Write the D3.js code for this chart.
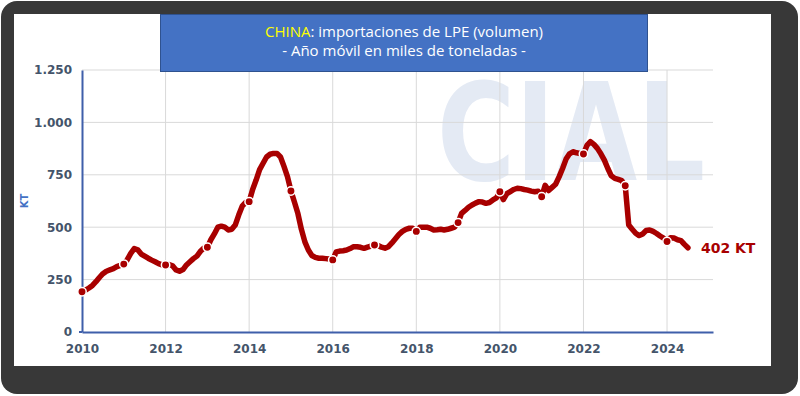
<!DOCTYPE html>
<html>
<head>
<meta charset="utf-8">
<script src="https://cdn.jsdelivr.net/npm/d3@7/dist/d3.min.js"></script>
<style>
  html, body { margin: 0; padding: 0; background: #ffffff; }
  svg { display: block; }
</style>
</head>
<body>
<svg id="chart" width="800" height="396"></svg>
<script>
// ---- data (monthly, rolling 12-month imports, thousand tonnes) ----
const startYear = 2010;
const values2010 = [192, 200, 210, 222, 240, 260, 278, 290, 296, 302, 312, 318];
const values2011 = [324, 345, 375, 398, 392, 372, 362, 352, 343, 335, 326, 320];
const values2012 = [320, 322, 316, 296, 290, 298, 320, 335, 350, 362, 385, 400];
const values2013 = [404, 440, 468, 500, 505, 500, 487, 490, 510, 558, 600, 618];
const values2014 = [622, 680, 725, 775, 805, 835, 848, 852, 852, 835, 790, 741];
const values2015 = [673, 620, 565, 490, 430, 391, 365, 356, 352, 352, 350, 348];
const values2016 = [344, 382, 386, 388, 391, 398, 407, 407, 404, 399, 405, 410];
const values2017 = [415, 412, 405, 400, 407, 425, 445, 465, 480, 490, 495, 495];
const values2018 = [480, 500, 500, 500, 495, 487, 488, 490, 487, 490, 495, 500];
const values2019 = [522, 566, 580, 595, 606, 615, 622, 620, 614, 618, 630, 640];
const values2020 = [669, 632, 660, 670, 680, 686, 684, 680, 677, 672, 669, 672];
const values2021 = [645, 700, 675, 690, 705, 740, 780, 825, 850, 860, 855, 852];
const values2022 = [849, 890, 908, 895, 876, 850, 820, 780, 745, 733, 728, 722];
const values2023 = [698, 510, 490, 471, 460, 468, 484, 487, 480, 470, 458, 448];
const values2024 = [432, 450, 448, 440, 436, 418, 402];

const yTicks = [0, 250, 500, 750, 1000, 1250];
const yTickLabels = ["0", "250", "500", "750", "1.000", "1.250"];
const xTicks = [2010, 2012, 2014, 2016, 2018, 2020, 2022, 2024];
const titleStrong = "CHINA";
const titleRest = ": importaciones de LPE (volumen)";
const subtitle = "- Año móvil en miles de toneladas -";
const yAxisTitle = "KT";
const endLabel = "402 KT";
const watermark = "CIAL";

const allValues = [].concat(values2010, values2011, values2012, values2013, values2014,
  values2015, values2016, values2017, values2018, values2019, values2020, values2021,
  values2022, values2023, values2024);
const series = allValues.map((v, i) => ({ t: startYear + i / 12, v: v, jan: i % 12 === 0 }));

// ---- drawing ----
const svg = d3.select("#chart");

// outer frame
svg.append("rect").attr("x", 0).attr("y", 0).attr("width", 800).attr("height", 396)
  .attr("fill", "#ffffff");
svg.append("rect").attr("x", 1).attr("y", 1).attr("width", 797).attr("height", 393)
  .attr("rx", 16).attr("fill", "#383838");
svg.append("rect").attr("x", 14).attr("y", 14).attr("width", 757).attr("height", 352)
  .attr("fill", "#ffffff");

const x = d3.scaleLinear().domain([2010, 2025.1]).range([82, 713]);
const y = d3.scaleLinear().domain([0, 1250]).range([332, 70]);

// watermark (logo text)
svg.append("text").attr("x", 437).attr("y", 180)
  .attr("font-family", "DejaVu Sans").attr("font-weight", "bold")
  .attr("font-size", 136).attr("fill", "#e4eaf4")
  .attr("textLength", 268).attr("lengthAdjust", "spacingAndGlyphs")
  .text(watermark);

// grid
const grid = svg.append("g");
grid.selectAll("line.h").data(yTicks.filter(d => d > 0)).join("line")
  .attr("x1", x(2010)).attr("x2", x(2025.1))
  .attr("y1", d => y(d)).attr("y2", d => y(d))
  .attr("stroke", "#d9d9d9").attr("stroke-width", 1);
grid.selectAll("line.v").data(xTicks.filter(d => d > 2010)).join("line")
  .attr("x1", d => x(d)).attr("x2", d => x(d))
  .attr("y1", y(1250)).attr("y2", y(0))
  .attr("stroke", "#d9d9d9").attr("stroke-width", 1);

// axes
const axisColor = "#3f5faa";
const labelColor = "#44546a";
const yAxis = svg.append("g").attr("transform", `translate(${x(2010)},0)`)
  .call(d3.axisLeft(y).tickValues(yTicks).tickFormat((d, i) => yTickLabels[i]).tickSize(0).tickPadding(10));
yAxis.select(".domain").attr("stroke", axisColor).attr("stroke-width", 2);
yAxis.selectAll("text").attr("font-family", "DejaVu Sans").attr("font-weight", "bold")
  .attr("font-size", 12).attr("fill", labelColor);

const xAxis = svg.append("g").attr("transform", `translate(0,${y(0)})`)
  .call(d3.axisBottom(x).tickValues(xTicks).tickFormat(d3.format("d")).tickSize(0).tickPadding(12));
xAxis.select(".domain").attr("stroke", axisColor).attr("stroke-width", 2);
xAxis.selectAll("text").attr("font-family", "DejaVu Sans").attr("font-weight", "bold")
  .attr("font-size", 12).attr("fill", labelColor);

// small tick at the origin
svg.append("line").attr("x1", x(2010) - 3).attr("x2", x(2010)).attr("y1", y(0)).attr("y2", y(0))
  .attr("stroke", axisColor).attr("stroke-width", 2);

// y axis title
svg.append("text").attr("transform", `translate(28,${y(625)}) rotate(-90)`)
  .attr("text-anchor", "middle").attr("font-family", "DejaVu Sans").attr("font-weight", "bold")
  .attr("font-size", 10).attr("fill", "#4472c4").text(yAxisTitle);

// line
const red = "#a80000";
const line = d3.line().x(d => x(d.t)).y(d => y(d.v));
svg.append("path").datum(series).attr("d", line)
  .attr("fill", "none").attr("stroke", red).attr("stroke-width", 5.5)
  .attr("stroke-linejoin", "round").attr("stroke-linecap", "round");

// january markers
svg.selectAll("circle.m").data(series.filter(d => d.jan)).join("circle")
  .attr("cx", d => x(d.t)).attr("cy", d => y(d.v)).attr("r", 4.2)
  .attr("fill", red).attr("stroke", "#ffffff").attr("stroke-width", 1.5);

// end label
const last = series[series.length - 1];
svg.append("text").attr("x", x(last.t) + 13).attr("y", y(last.v) + 1)
  .attr("dominant-baseline", "middle")
  .attr("font-family", "DejaVu Sans").attr("font-weight", "bold").attr("font-size", 14)
  .attr("fill", red).text(endLabel);

// title box
svg.append("rect").attr("x", 160.5).attr("y", 14.5).attr("width", 487).attr("height", 57)
  .attr("fill", "#4472c4").attr("stroke", "#2f528f").attr("stroke-width", 1);
const t1 = svg.append("text").attr("x", 404).attr("y", 37).attr("text-anchor", "middle")
  .attr("font-family", "Open Sans").attr("font-size", 15).attr("fill", "#ffffff");
t1.append("tspan").attr("fill", "#ffff00").text(titleStrong);
t1.append("tspan").text(titleRest);
svg.append("text").attr("x", 404).attr("y", 56).attr("text-anchor", "middle")
  .attr("font-family", "Open Sans").attr("font-size", 15).attr("fill", "#ffffff").text(subtitle);
</script>
</body>
</html>
